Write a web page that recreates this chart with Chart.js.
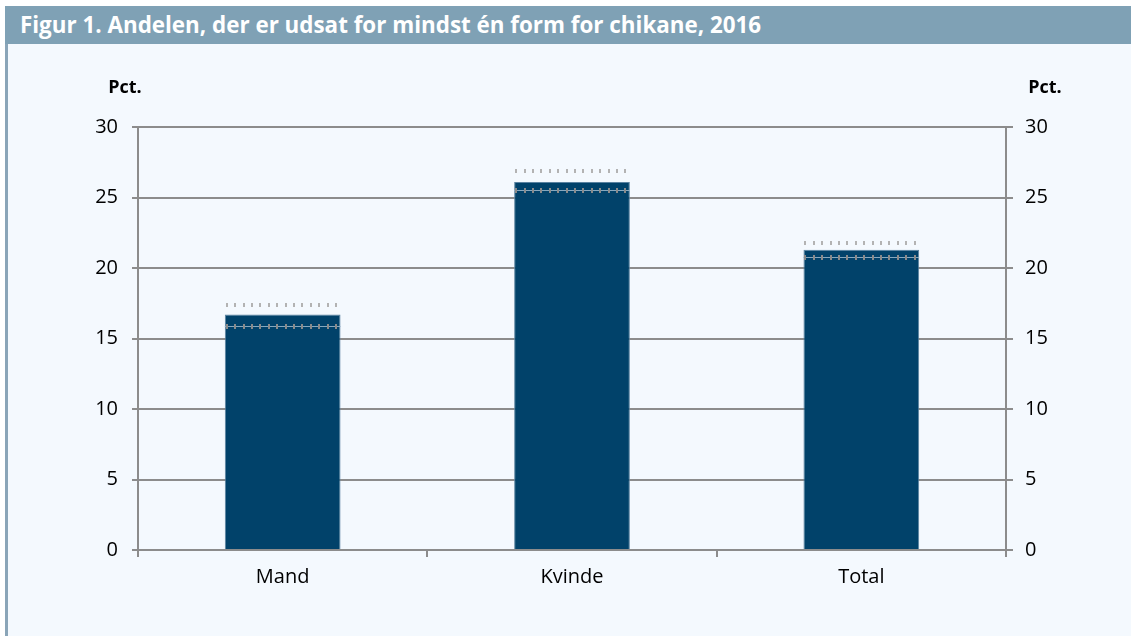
<!DOCTYPE html>
<html>
<head>
<meta charset="utf-8">
<script src="https://cdn.jsdelivr.net/npm/chart.js@4"></script>
<style>
  body { margin: 0; background: #ffffff; width: 1131px; height: 636px; overflow: hidden; position: relative; }
  #titlebar { position: absolute; left: 5px; top: 6px; width: 1126px; height: 38px; background: #7fa1b5;
    color: #ffffff; font: bold 22.4px "Open Sans", sans-serif; line-height: 38px; padding-left: 15px; box-sizing: border-box; white-space: nowrap; }
  #panel { position: absolute; left: 5px; top: 44px; width: 1126px; height: 592px; background: #f4f9fe;
    border-left: 3px solid #8aa5b8; box-sizing: border-box; }
  #myChart { position: absolute; left: 8px; top: 44px; }
</style>
</head>
<body>
<div id="titlebar">Figur 1. Andelen, der er udsat for mindst én form for chikane, 2016</div>
<div id="panel"></div>
<canvas id="myChart" width="1123" height="592"></canvas>
<script>
  // data
  const kategorier = ["Mand", "Kvinde", "Total"];
  const andel = [16.7, 26.1, 21.3];
  const ciOvre = [17.4, 26.9, 21.8];
  const ciNedre = [15.9, 25.5, 20.8];
  const yMin = 0;
  const yMax = 30;
  const yStep = 5;
  const enhed = "Pct.";

  const axisGray = "#8c8c8c";
  const tickFont = { family: "'Open Sans', sans-serif", size: 20 };

  // draws the dotted interval lines above/below the bar tops
  const intervalPlugin = {
    id: "interval",
    afterDatasetsDraw(chart) {
      const ctx = chart.ctx;
      const y = chart.scales.y;
      const meta = chart.getDatasetMeta(0);
      meta.data.forEach((bar, i) => {
        const left = bar.x - bar.width / 2;
        const right = bar.x + bar.width / 2;
        const yUp = y.getPixelForValue(ciOvre[i]);
        const yLo = y.getPixelForValue(ciNedre[i]);
        ctx.save();
        // thin light line at lower bound
        ctx.strokeStyle = "rgba(150,178,198,0.9)";
        ctx.lineWidth = 1;
        ctx.beginPath();
        ctx.moveTo(left, Math.round(yLo) + 0.5);
        ctx.lineTo(right, Math.round(yLo) + 0.5);
        ctx.stroke();
        for (let x = left + 1; x < right - 3; x += 8.4) {
          ctx.fillStyle = "#b3b3b3";
          ctx.fillRect(Math.round(x), Math.round(yUp) - 2, 2, 4);
          ctx.fillStyle = "#8a8a8a";
          ctx.fillRect(Math.round(x), Math.round(yLo) - 2, 2, 5);
        }
        ctx.restore();
      });
    },
    afterDraw(chart) {
      const ctx = chart.ctx;
      const a = chart.chartArea;
      ctx.save();
      ctx.fillStyle = "#000000";
      ctx.font = "bold 18px 'Open Sans', sans-serif";
      ctx.textAlign = "center";
      ctx.textBaseline = "middle";
      ctx.fillText(enhed, a.left - 13, a.top - 39);
      ctx.fillText(enhed, a.right + 39, a.top - 39);
      ctx.restore();
    }
  };

  const ctx = document.getElementById("myChart").getContext("2d");
  new Chart(ctx, {
    type: "bar",
    data: {
      labels: kategorier,
      datasets: [{
        data: andel,
        backgroundColor: "#01426a",
        borderColor: "#5a82a0",
        borderWidth: 1,
        categoryPercentage: 1,
        barPercentage: 0.4,
        yAxisID: "y"
      }]
    },
    options: {
      responsive: false,
      animation: false,
      layout: { padding: { top: 83, left: 0, right: 0, bottom: 0 } },
      plugins: { legend: { display: false }, tooltip: { enabled: false } },
      scales: {
        x: {
          offset: true,
          grid: { offset: true, drawOnChartArea: false, color: axisGray, lineWidth: 2, tickLength: 7 },
          border: { color: axisGray, width: 2 },
          ticks: { color: "#000000", font: tickFont, padding: 8 },
          afterFit(scale) { scale.height = 86; }
        },
        y: {
          position: "left",
          min: yMin, max: yMax,
          ticks: { stepSize: yStep, color: "#000000", font: tickFont, padding: 14 },
          grid: { color: axisGray, lineWidth: 2, tickLength: 6 },
          border: { color: axisGray, width: 2 },
          afterFit(scale) { scale.width = 130; }
        },
        y2: {
          position: "right",
          min: yMin, max: yMax,
          ticks: { stepSize: yStep, color: "#000000", font: tickFont, padding: 12 },
          grid: { drawOnChartArea: false, color: axisGray, lineWidth: 2, tickLength: 7 },
          border: { color: axisGray, width: 2 },
          afterFit(scale) { scale.width = 125; }
        }
      }
    },
    plugins: [intervalPlugin]
  });
</script>
</body>
</html>
